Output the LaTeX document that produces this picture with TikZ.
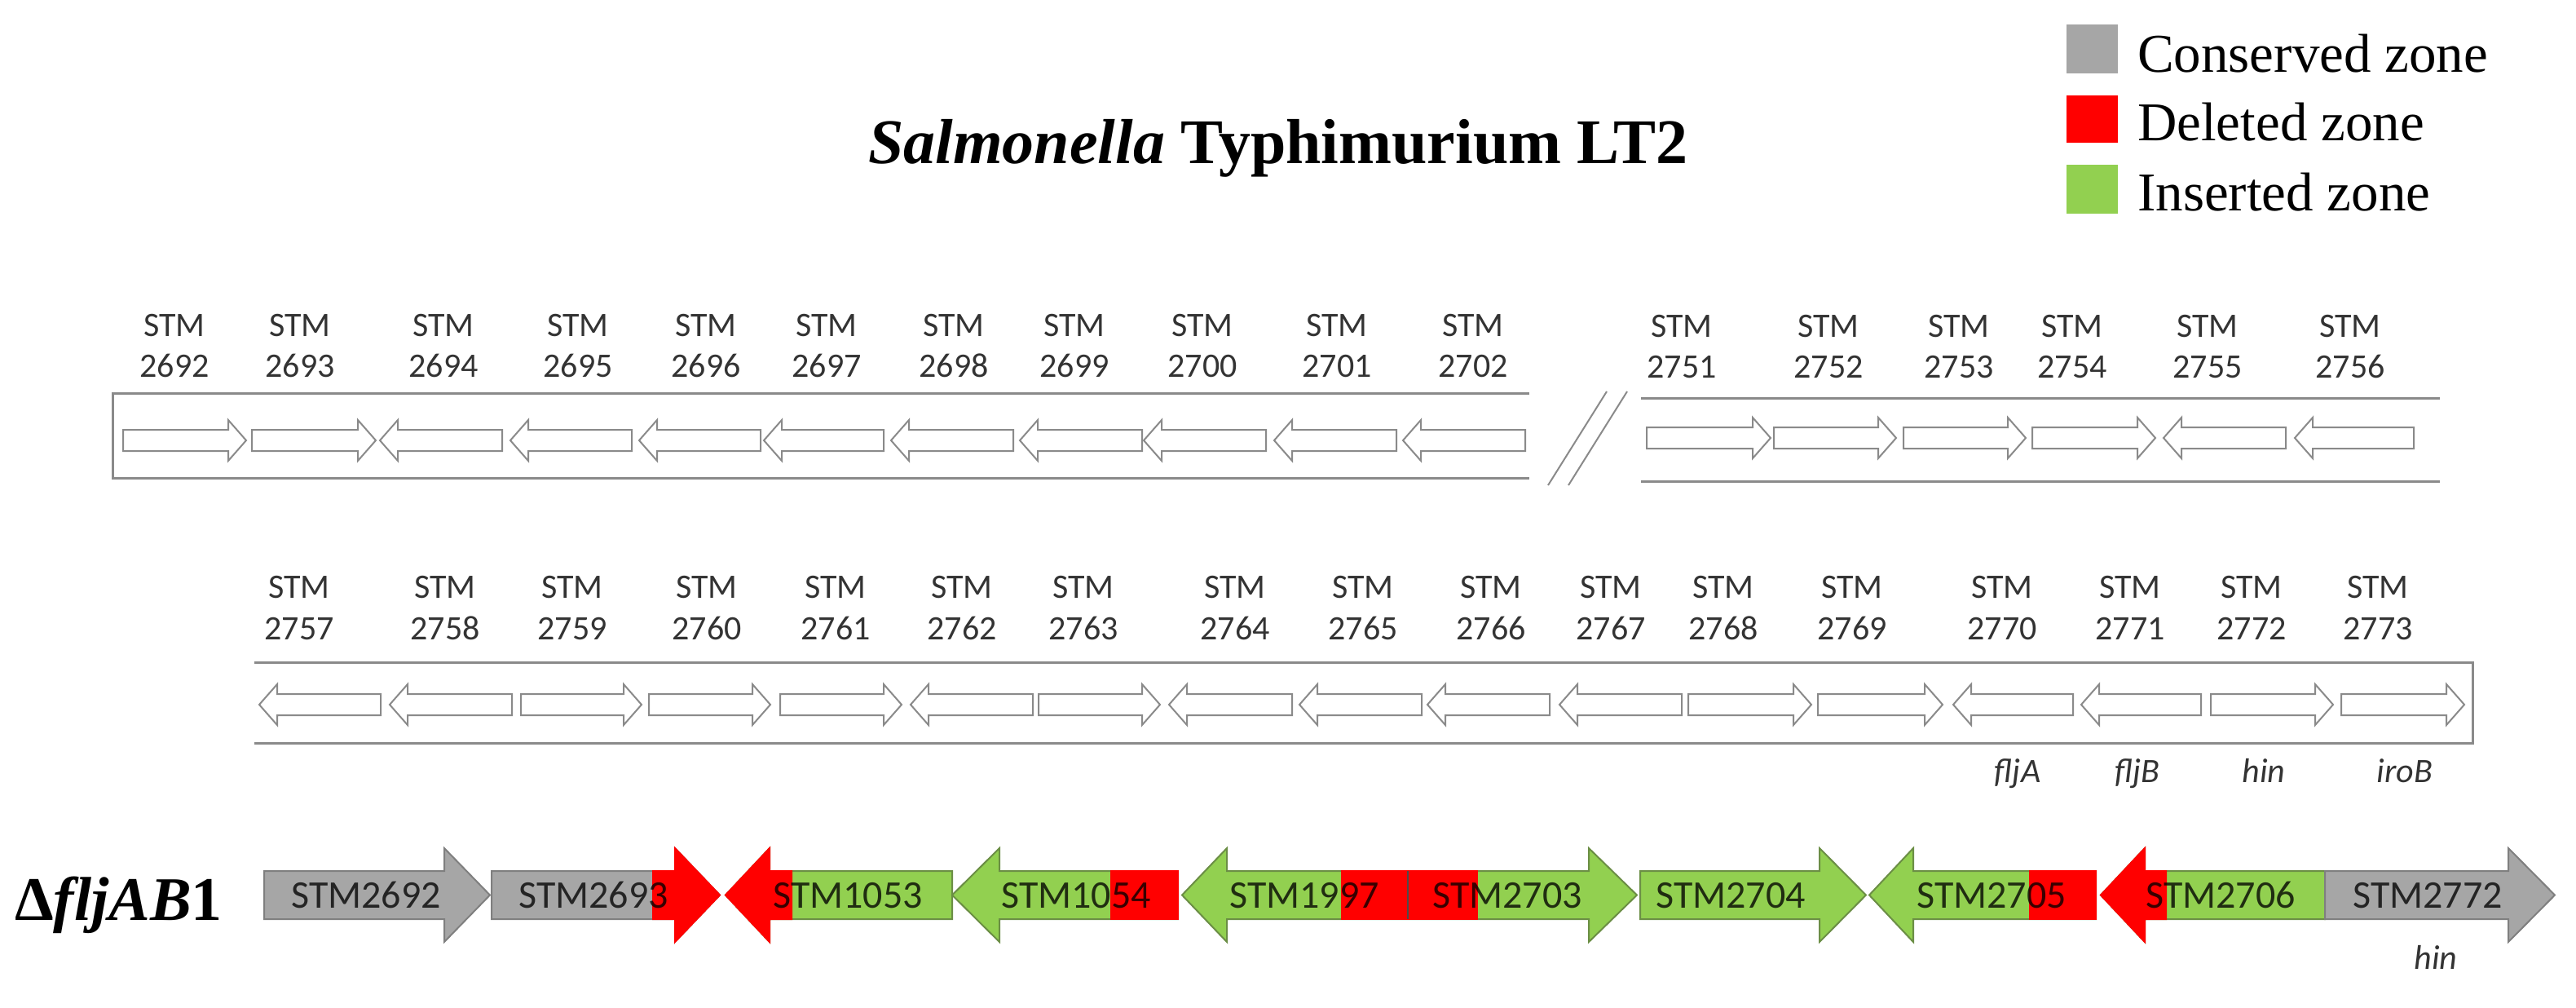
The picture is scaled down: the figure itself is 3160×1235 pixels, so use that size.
\documentclass[tikz,border=0pt]{standalone}
\usepackage{fontspec}
\setmainfont{Liberation Serif}
\newfontfamily\calibri{Carlito}
\definecolor{geneGray}{HTML}{A6A6A6}
\definecolor{geneGrayD}{HTML}{7F7F7F}
\definecolor{geneGreen}{HTML}{92D050}
\definecolor{geneGreenD}{HTML}{6B8E45}
\definecolor{geneRed}{HTML}{FF0000}
\definecolor{lineGray}{HTML}{8A8A8A}
\definecolor{labText}{HTML}{333333}
% small outlined arrows: [style]{tail/tip}{tip/tail}{y}
\newcommand\RA[4][]{\draw[#1] (#2,#4-13) -- (#3-22,#4-13) -- (#3-22,#4-25) -- (#3,#4) -- (#3-22,#4+25) -- (#3-22,#4+13) -- (#2,#4+13) -- cycle;}
\newcommand\LA[4][]{\draw[#1] (#3,#4-13) -- (#2+22,#4-13) -- (#2+22,#4-25) -- (#2,#4) -- (#2+22,#4+25) -- (#2+22,#4+13) -- (#3,#4+13) -- cycle;}
% big coloured arrows
\newcommand\BR[4][]{\draw[#1] (#2,1068) -- (#3,1068) -- (#3,1040) -- (#4,1097.5) -- (#3,1155) -- (#3,1127) -- (#2,1127) -- cycle;}
\newcommand\BL[4][]{\draw[#1] (#4,1068) -- (#3,1068) -- (#3,1040) -- (#2,1097.5) -- (#3,1155) -- (#3,1127) -- (#4,1127) -- cycle;}
\begin{document}
\begin{tikzpicture}[x=1pt,y=-1pt,
  smallarrow/.style={draw=lineGray, line width=2, fill=white, line join=miter},
  boxline/.style={draw=lineGray, line width=3},
  lab/.style={anchor=base, inner sep=0, text=labText, font=\calibri\fontsize{42}{50}\selectfont},
  ilab/.style={lab, font=\calibri\itshape\fontsize{42}{50}\selectfont},
  grayarrow/.style={fill=geneGray, draw=geneGrayD, line width=2},
  greenarrow/.style={fill=geneGreen, draw=geneGreenD, line width=2},
  redov/.style={fill=geneRed, draw=geneRed, line width=2},
  glab/.style={anchor=base, inner sep=0, text=black, text opacity=0.78, font=\calibri\fontsize{48}{56}\selectfont},
  legtext/.style={anchor=base west, inner sep=0, font=\fontsize{67}{72}\selectfont}
]
\useasboundingbox (0,0) rectangle (3160,1235);

% ---------- title and legend ----------
\node[anchor=base, inner sep=0, font=\fontsize{78}{90}\selectfont\bfseries] (title) at (1568,200) {\textit{Salmonella} Typhimurium LT2};

\fill[geneGray] (2535,30) rectangle (2598,90);
\fill[geneRed] (2535,117) rectangle (2598,175);
\fill[geneGreen] (2535,202) rectangle (2598,262);
\node[legtext] (lcons) at (2622,88) {Conserved zone};
\node[legtext] (ldel) at (2622,172) {Deleted zone};
\node[legtext] (lins) at (2622,258) {Inserted zone};

% ---------- row 1 ----------
\draw[boxline] (1876,482) -- (138,482) -- (138,586) -- (1876,586);
\draw[boxline] (2013,488) -- (2993,488);
\draw[boxline] (2013,590) -- (2993,590);
\draw[draw=lineGray, line width=2] (1971,480) -- (1899,595);
\draw[draw=lineGray, line width=2] (1996,480) -- (1924,595);

\foreach \a/\b in {151/302, 309/461} {\RA[smallarrow]{\a}{\b}{540}}
\foreach \a/\b in {466/616, 626/775, 784/933, 937/1084, 1093/1243, 1251/1401, 1403/1553, 1563/1713, 1721/1871} {\LA[smallarrow]{\a}{\b}{540}}
\foreach \a/\b in {2020/2172, 2176/2326, 2335/2485, 2493/2644} {\RA[smallarrow]{\a}{\b}{537}}
\foreach \a/\b in {2654/2804, 2815/2961} {\LA[smallarrow]{\a}{\b}{537}}

\foreach \x/\n in {214/2692, 368/2693, 544/2694, 709/2695, 866/2696, 1014/2697, 1170/2698, 1318/2699, 1475/2700, 1640/2701, 1807/2702} {
  \node[lab] (s\n) at (\x,412) {STM};
  \node[lab] (n\n) at (\x,462) {\n};
}
\foreach \x/\n in {2063/2751, 2243/2752, 2403/2753, 2542/2754, 2708/2755, 2883/2756} {
  \node[lab] (s\n) at (\x,413) {STM};
  \node[lab] (n\n) at (\x,463) {\n};
}

% ---------- row 2 ----------
\draw[boxline] (312,812) -- (3033,812) -- (3033,911) -- (312,911);
\foreach \a/\b in {639/787, 796/945, 957/1106, 1274/1423, 2071/2222, 2230/2383, 2712/2862, 2872/3023} {\RA[smallarrow]{\a}{\b}{864}}
\foreach \a/\b in {318/467, 478/628, 1117/1267, 1434/1585, 1594/1744, 1751/1901, 1913/2063, 2396/2543, 2553/2700} {\LA[smallarrow]{\a}{\b}{864}}

\foreach \x/\n in {367/2757, 546/2758, 702/2759, 867/2760, 1025/2761, 1180/2762, 1329/2763, 1515/2764, 1672/2765, 1829/2766, 1976/2767, 2114/2768, 2272/2769, 2456/2770, 2613/2771, 2762/2772, 2917/2773} {
  \node[lab] (s\n) at (\x,733) {STM};
  \node[lab] (n\n) at (\x,784) {\n};
}
\node[ilab] (fljA) at (2475,959) {fljA};
\node[ilab] (fljB) at (2622,959) {fljB};
\node[ilab] (hinA) at (2777,959) {hin};
\node[ilab] (iroB) at (2950,959) {iroB};

% ---------- bottom row ----------
\node[anchor=base west, inner sep=0, font=\fontsize{76}{80}\selectfont\bfseries] (mut) at (18,1128) {Δ\textit{fljAB}1};

\BR[grayarrow]{324}{545}{601}
\BR[grayarrow]{603}{828}{883}
\BR[redov]{801}{828}{883}
\BL[greenarrow]{890}{944}{1168}
\BL[redov]{890}{944}{971}
\BL[greenarrow]{1168}{1226}{1445}
\fill[geneRed] (1362,1067) rectangle (1446,1128);
\draw[greenarrow] (1450,1097.5) -- (1505,1040) -- (1505,1068) -- (1949,1068) -- (1949,1040) -- (2008,1097.5) -- (1949,1155) -- (1949,1127) -- (1505,1127) -- (1505,1155) -- cycle;
\fill[geneRed] (1645,1067) rectangle (1813,1128);
\draw[black!70, line width=1.5] (1727,1068) -- (1727,1127);
\BR[greenarrow]{2012}{2232}{2289}
\BL[greenarrow]{2293}{2347}{2571}
\fill[geneRed] (2489,1067) rectangle (2572,1128);
\BL[greenarrow]{2577}{2631}{2852}
\BL[redov]{2577}{2631}{2657}
\BR[grayarrow]{2852}{3077}{3134}

\node[glab] (g2692) at (449,1113) {STM2692};
\node[glab] (g2693) at (728,1113) {STM2693};
\node[glab] (g1053) at (1040,1113) {STM1053};
\node[glab] (g1054) at (1320,1113) {STM1054};
\node[glab] (g1997) at (1600,1113) {STM1997};
\node[glab] (g2703) at (1849,1113) {STM2703};
\node[glab] (g2704) at (2123,1113) {STM2704};
\node[glab] (g2705) at (2443,1113) {STM2705};
\node[glab] (g2706) at (2724,1113) {STM2706};
\node[glab] (g2772) at (2978,1113) {STM2772};
\node[ilab] (hinB) at (2988,1188) {hin};
\end{tikzpicture}
\end{document}
